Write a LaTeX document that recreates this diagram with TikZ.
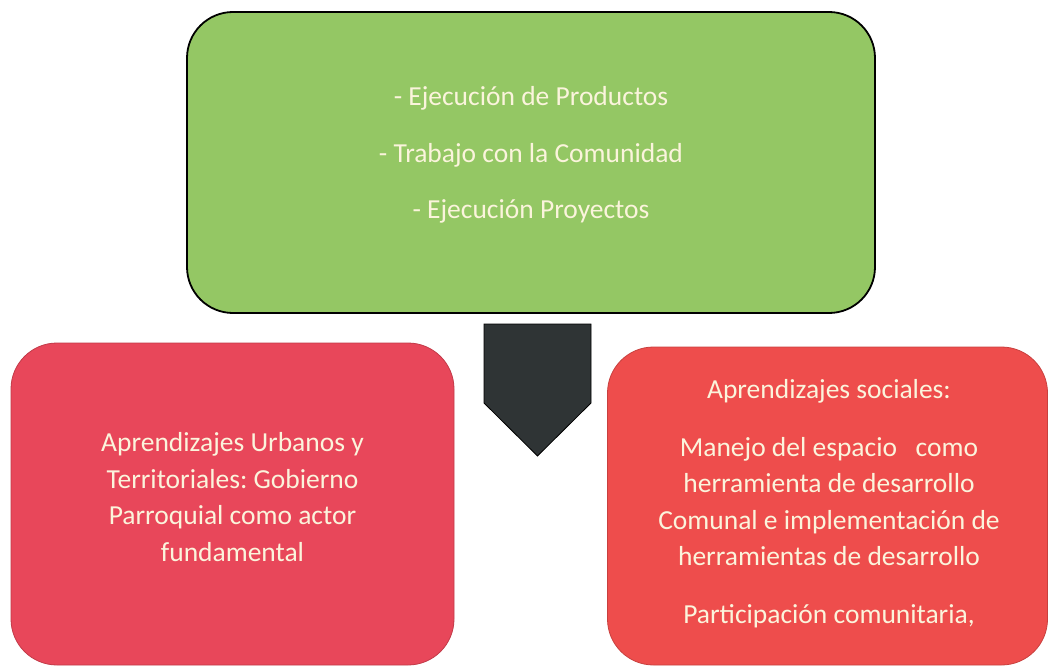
\documentclass[tikz,border=0pt]{standalone}
\usepackage{fontspec}
\setmainfont{Carlito}
\frenchspacing
\definecolor{boxgreen}{HTML}{94C764}
\definecolor{redleft}{HTML}{E8475A}
\definecolor{redright}{HTML}{EE4D4C}
\definecolor{redleftedge}{HTML}{C23A48}
\definecolor{redrightedge}{HTML}{C8403E}
\definecolor{arrowdark}{HTML}{2F3435}
\definecolor{txt}{HTML}{FBF4DC}
\tikzset{
  greenbox/.style={draw=black, line width=1.8pt, fill=boxgreen, rounded corners=46pt, inner sep=0pt},
  redbox/.style={line width=0.8pt, rounded corners=46pt, inner sep=0pt},
  boxtext/.style={text=txt, align=center, font=\fontsize{27.5}{36.5}\selectfont, inner sep=0pt},
  blockarrow/.style={fill=arrowdark, draw=black, line width=0.8pt}
}
\begin{document}
\begin{tikzpicture}[x=1pt,y=-1pt]
\useasboundingbox (0,0) rectangle (1049,666);
% top green box
\node[greenbox, minimum width=688pt, minimum height=301pt] (top) at (531,162.5) {};
\node[boxtext] (toptext) at (531,155) {- Ejecución de Productos\\[20pt]- Trabajo con la Comunidad\\[20pt]- Ejecución Proyectos};
% left red box
\node[redbox, draw=redleftedge, fill=redleft, minimum width=443pt, minimum height=322pt] (left) at (232.5,504) {};
\node[boxtext] (lefttext) at (232.5,497) {Aprendizajes Urbanos y\\Territoriales: Gobierno\\Parroquial como actor\\fundamental};
% right red box
\node[redbox, draw=redrightedge, fill=redright, minimum width=440pt, minimum height=318pt] (right) at (827.5,506) {};
\node[boxtext] (righttext) at (829,503.5) {Aprendizajes sociales:\\[21pt]Manejo del espacio \ \ como\\herramienta de desarrollo\\Comunal e implementación de\\herramientas de desarrollo\\[21pt]Participación comunitaria,};
% block arrow
\coordinate (a1) at (484,324);
\coordinate (a2) at (591,324);
\coordinate (a3) at (591,403);
\coordinate (tip) at (537.5,456);
\coordinate (a5) at (484,403);
\draw[blockarrow] (a1) -- (a2) -- (a3) -- (tip) -- (a5) -- cycle;
\end{tikzpicture}
\end{document}
